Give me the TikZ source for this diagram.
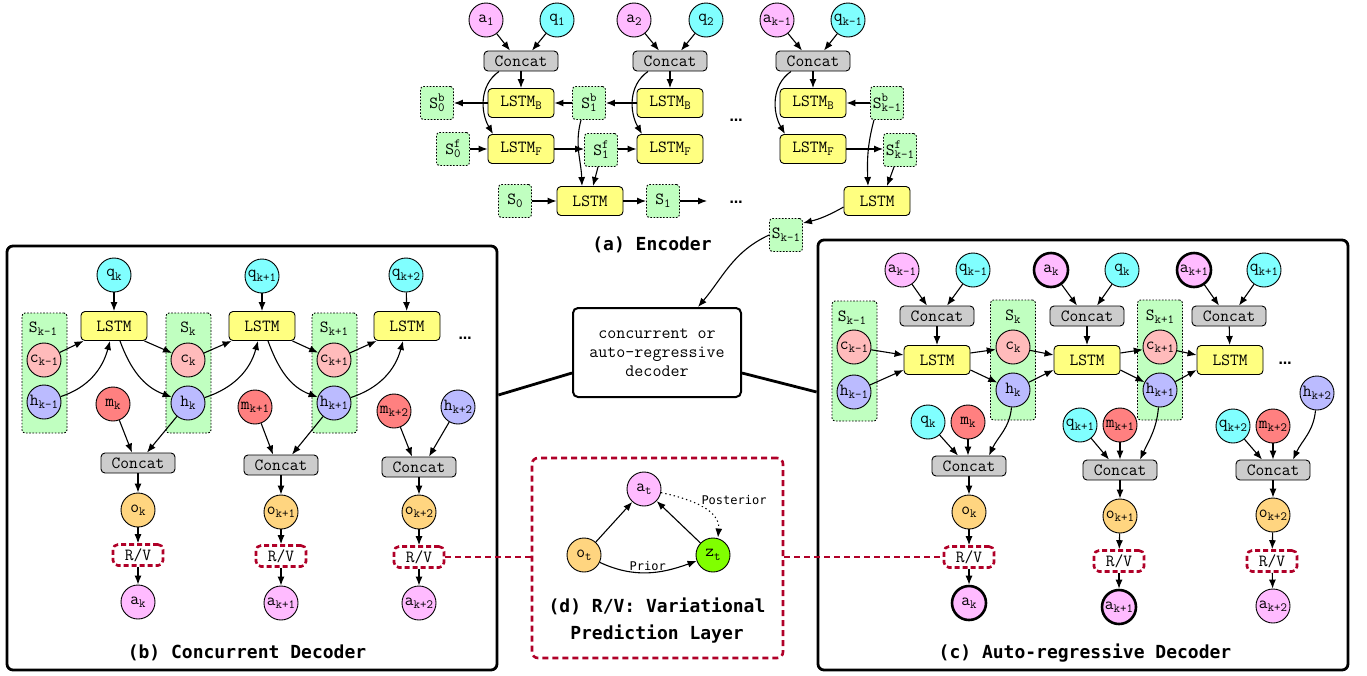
\documentclass[tikz,border=0pt]{standalone}
\usepackage{fontspec}
\newfontfamily\capfont{DejaVu Sans Mono}
\newfontfamily\dotfont{DejaVu Sans}
\usetikzlibrary{arrows.meta}
\definecolor{apink}{HTML}{FFBBFF}
\definecolor{qcyan}{HTML}{80FFFF}
\definecolor{cgray}{HTML}{CCCCCC}
\definecolor{lyel}{HTML}{FFFF80}
\definecolor{sgreen}{HTML}{C0FFC0}
\definecolor{cred}{HTML}{FFBBBB}
\definecolor{hblue}{HTML}{BBBBFF}
\definecolor{mred}{HTML}{FF8080}
\definecolor{oorg}{HTML}{FFD580}
\definecolor{zgreen}{HTML}{80FF00}
\definecolor{rvred}{HTML}{B00028}
\newcommand\nf{\ttfamily\fontsize{17}{19}\selectfont}
\newcommand\smf{\fontsize{12.5}{12.5}\selectfont}
\newcommand\sbs[1]{\raisebox{-0.45ex}{\smf #1}}
\newcommand\sps[2]{S\makebox[0pt][l]{\raisebox{0.9ex}{\smf #1}}\raisebox{-0.45ex}{\smf #2}}
\tikzset{
  every node/.style={font=\nf, inner sep=0pt, text=black},
  bd/.style={draw=black, line width=0.9pt},
  circ/.style={bd, circle, minimum size=34pt},
  anode/.style={circ, fill=apink},
  athick/.style={circ, fill=apink, line width=2.6pt},
  qnode/.style={circ, fill=qcyan},
  cnode/.style={circ, fill=cred},
  hnode/.style={circ, fill=hblue},
  mnode/.style={circ, fill=mred},
  onode/.style={circ, fill=oorg},
  znode/.style={circ, fill=zgreen},
  concat/.style={bd, rounded corners=4pt, fill=cgray, minimum width=74pt, minimum height=20pt},
  lstm/.style={bd, rounded corners=4pt, fill=lyel, minimum width=66pt, minimum height=29pt},
  sbox/.style={draw=black, line width=0.9pt, dash pattern=on 1.6pt off 1.6pt, rounded corners=3pt, fill=sgreen, minimum size=33pt},
  grp/.style={sbox, minimum width=45pt, minimum height=120pt},
  rv/.style={draw=rvred, line width=2.6pt, dash pattern=on 5pt off 3pt, rounded corners=5pt, fill=white, minimum width=50pt, minimum height=21pt},
  rvline/.style={draw=rvred, line width=2.6pt, dash pattern=on 6pt off 4pt},
  outerbox/.style={draw=black, line width=2.8pt, rounded corners=6pt},
  arr/.style={-{Latex[length=9pt,width=7pt]}, line width=1.1pt},
  thickline/.style={line width=2.8pt},
  capt/.style={font=\capfont\bfseries\fontsize{18}{27}\selectfont},
  lbl/.style={font=\capfont\fontsize{12}{12}\selectfont},
  dotsty/.style={font=\dotfont\bfseries\fontsize{13}{13}\selectfont},
}
\begin{document}
\begin{tikzpicture}[x=1pt,y=-1pt]
\useasboundingbox (0,0) rectangle (1367,675);

% ================= outer boxes =================
\node[outerbox, minimum width=490pt, minimum height=424pt] (B) at (252,458) {};
\node[outerbox, minimum width=530pt, minimum height=430pt] (C) at (1083,455) {};
\node[draw=rvred, line width=2.6pt, dash pattern=on 6pt off 4pt, rounded corners=6pt, minimum width=251pt, minimum height=200pt] (D) at (657.5,558) {};
\node[draw=black, line width=2pt, rounded corners=5pt, minimum width=168pt, minimum height=89pt, align=center, font=\ttfamily\fontsize{17.5}{19}\selectfont] (dec) at (657,352.5) {concurrent or\\auto-regressive\\decoder};

% ================= (a) Encoder =================
\node[anode] (a1) at (486,20) {a\sbs{1}};
\node[qnode] (q1) at (557,20) {q\sbs{1}};
\node[concat] (cc1) at (521,61) {Concat};
\node[anode] (a2) at (634,20) {a\sbs{2}};
\node[qnode] (q2) at (706,20) {q\sbs{2}};
\node[concat] (cc2) at (670,61) {Concat};
\node[anode] (a3) at (777,20) {a\sbs{k-1}};
\node[qnode] (q3) at (848,20) {q\sbs{k-1}};
\node[concat] (cc3) at (813,61) {Concat};

\node[lstm] (lb1) at (521,103) {LSTM\sbs{B}};
\node[lstm] (lb2) at (670,103) {LSTM\sbs{B}};
\node[lstm] (lb3) at (813,103) {LSTM\sbs{B}};
\node[lstm] (lf1) at (521,149) {LSTM\sbs{F}};
\node[lstm] (lf2) at (670,149) {LSTM\sbs{F}};
\node[lstm] (lf3) at (813,149) {LSTM\sbs{F}};

\node[sbox] (sb0) at (437,103) {\sps{b}{0}};
\node[sbox] (sb1) at (589,103) {\sps{b}{1}};
\node[sbox] (sbk) at (887,103) {\sps{b}{k-1}};
\node[sbox] (sf0) at (453,149) {\sps{f}{0}};
\node[sbox] (sf1) at (601,150) {\sps{f}{1}};
\node[sbox] (sfk) at (900,150) {\sps{f}{k-1}};

\node[lstm] (ls1) at (590,201) {LSTM};
\node[lstm] (ls3) at (877,201) {LSTM};
\node[sbox] (s0) at (515,201) {S\sbs{0}};
\node[sbox] (s1) at (663,201) {S\sbs{1}};
\node[sbox] (sk) at (786,235) {S\sbs{k-1}};
\coordinate (e1) at (707,201);
\node[dotsty] (dA1) at (736,120) {…};
\node[dotsty] (dA2) at (736,202) {…};
\node[capt] (capA) at (652,245) {(a) Encoder};

\foreach \i in {1,2,3}{
  \draw[arr] (a\i) -- ([xshift=-11pt]cc\i.north);
  \draw[arr] (q\i) -- ([xshift=11pt]cc\i.north);
  \draw[arr] (cc\i) -- (lb\i);
  \draw[arr] ([xshift=-22pt]cc\i.south) to[out=215,in=120] ([xshift=-28pt]lf\i.north);
}
\draw[arr] (lb1) -- (sb0);
\draw[arr] (sb1) -- (lb1);
\draw[arr] (lb2) -- (sb1);
\draw[arr] (sf0) -- (lf1);
\draw[arr] (lf1.east) -- (sf1.west |- lf1.east);
\draw[arr] (sf1.east |- lf2.west) -- (lf2.west);
\draw[arr] (sbk) -- (lb3);
\draw[arr] (lf3.east) -- (sfk.west |- lf3.east);
\draw[arr] ([xshift=-8pt]sb1.south) to[out=-105,in=92] ([xshift=-8pt]ls1.north);
\draw[arr] ([xshift=-3pt]sf1.south) -- ([xshift=3pt]ls1.north);
\draw[arr] ([xshift=-13pt]sbk.south) to[out=-105,in=92] ([xshift=-9pt]ls3.north);
\draw[arr] ([xshift=-6pt]sfk.south) -- ([xshift=10pt]ls3.north);
\draw[arr] (s0) -- (ls1);
\draw[arr] (ls1) -- (s1);
\draw[arr] (s1) -- (e1);
\draw[arr] ([yshift=-6pt]ls3.west) to[bend left=8] ([yshift=-5pt]sk.north east);
\draw[arr] (sk.west) to[out=205,in=50] ([xshift=41pt]dec.north);

% connections of central box
\draw[thickline] ([yshift=-20.5pt]dec.west) -- ([yshift=63pt]B.east);
\draw[thickline] ([yshift=-20.5pt]dec.east) -- ([yshift=63pt]C.west);

% ================= (b) Concurrent decoder =================
\node[grp] (gb1) at (44.5,373) {};
\node[grp] (gb2) at (188.5,373) {};
\node[grp] (gb3) at (334.5,373) {};
\node (lgb1) at (43,329) {S\sbs{k-1}};
\node (lgb2) at (188,329) {S\sbs{k}};
\node (lgb3) at (334,329) {S\sbs{k+1}};
\node[cnode] (cb0) at (44,360) {c\sbs{k-1}};
\node[hnode] (hb0) at (44,402) {h\sbs{k-1}};
\node[cnode] (cb1) at (188,360) {c\sbs{k}};
\node[hnode] (hb1) at (188,403) {h\sbs{k}};
\node[cnode] (cb2) at (334,360) {c\sbs{k+1}};
\node[hnode] (hb2) at (334,403) {h\sbs{k+1}};

\node[qnode] (qb1) at (114,275) {q\sbs{k}};
\node[qnode] (qb2) at (262,276) {q\sbs{k+1}};
\node[qnode] (qb3) at (406,275) {q\sbs{k+2}};
\node[lstm] (lsb1) at (114,326) {LSTM};
\node[lstm] (lsb2) at (262,326) {LSTM};
\node[lstm] (lsb3) at (407,326) {LSTM};
\node[dotsty] (dB) at (465,338) {…};

\node[mnode] (mb1) at (113,404) {m\sbs{k}};
\node[mnode] (mb2) at (255,407) {m\sbs{k+1}};
\node[mnode] (mb3) at (394,411) {m\sbs{k+2}};
\node[hnode] (hb3) at (458,407) {h\sbs{k+2}};

\node[concat] (ccb1) at (138,463) {Concat};
\node[concat] (ccb2) at (281,465) {Concat};
\node[concat] (ccb3) at (419,467) {Concat};
\node[onode] (ob1) at (138,510) {o\sbs{k}};
\node[onode] (ob2) at (281,512) {o\sbs{k+1}};
\node[onode] (ob3) at (419,512) {o\sbs{k+2}};
\node[rv] (rvb1) at (138,555) {R/V};
\node[rv] (rvb2) at (281,556) {R/V};
\node[rv] (rvb3) at (419,557) {R/V};
\node[anode] (ab1) at (138,602) {a\sbs{k}};
\node[anode] (ab2) at (281,603) {a\sbs{k+1}};
\node[anode] (ab3) at (419,603) {a\sbs{k+2}};
\node[capt] (capB) at (247,653) {(b) Concurrent Decoder};

\draw[arr] (qb1) -- (lsb1);
\draw[arr] (qb2) -- (lsb2);
\draw[arr] (qb3) -- (lsb3);
\draw[arr] (cb0) -- ([xshift=3pt]lsb1.south west);
\draw[arr] (hb0) to[out=18,in=-105] ([xshift=-4pt]lsb1.south);
\draw[arr] ([xshift=-3pt]lsb1.south east) -- (cb1);
\draw[arr] ([xshift=6pt]lsb1.south) to[out=-70,in=160] (hb1);
\draw[arr] (cb1) -- ([xshift=3pt]lsb2.south west);
\draw[arr] (hb1) to[out=18,in=-105] ([xshift=-4pt]lsb2.south);
\draw[arr] ([xshift=-3pt]lsb2.south east) -- (cb2);
\draw[arr] ([xshift=6pt]lsb2.south) to[out=-70,in=160] (hb2);
\draw[arr] (cb2) -- ([xshift=3pt]lsb3.south west);
\draw[arr] (hb2) to[out=18,in=-105] ([xshift=-4pt]lsb3.south);
\draw[arr] (hb1) -- ([xshift=9pt]ccb1.north);
\draw[arr] (mb1) -- ([xshift=-6pt]ccb1.north);
\draw[arr] (hb2) -- ([xshift=11pt]ccb2.north);
\draw[arr] (mb2) -- ([xshift=-8pt]ccb2.north);
\draw[arr] (hb3) -- ([xshift=10pt]ccb3.north);
\draw[arr] (mb3) -- ([xshift=-7pt]ccb3.north);
\foreach \i in {1,2,3}{
  \draw[arr] (ccb\i) -- (ob\i);
  \draw[arr] (ob\i) -- (rvb\i);
  \draw[arr] (rvb\i) -- (ab\i);
}

% ================= (c) Auto-regressive decoder =================
\node[grp] (gc1) at (854.5,361) {};
\node[grp] (gc2) at (1013,360) {};
\node[grp] (gc3) at (1160,360) {};
\node (lgc1) at (852,318) {S\sbs{k-1}};
\node (lgc2) at (1013,317) {S\sbs{k}};
\node (lgc3) at (1160,317) {S\sbs{k+1}};
\node[cnode] (cc0) at (854,347) {c\sbs{k-1}};
\node[hnode] (hc0) at (854,392) {h\sbs{k-1}};
\node[cnode] (ccn1) at (1013,347) {c\sbs{k}};
\node[hnode] (hc1) at (1013,390) {h\sbs{k}};
\node[cnode] (ccn2) at (1160,347) {c\sbs{k+1}};
\node[hnode] (hc2) at (1160,390) {h\sbs{k+1}};

\node[anode] (at1) at (902,270) {a\sbs{k-1}};
\node[qnode] (qt1) at (973,270) {q\sbs{k-1}};
\node[athick] (at2) at (1051,270) {a\sbs{k}};
\node[qnode] (qt2) at (1122,270) {q\sbs{k}};
\node[athick] (at3) at (1194,270) {a\sbs{k+1}};
\node[qnode] (qt3) at (1264,270) {q\sbs{k+1}};
\node[concat] (cct1) at (937,316) {Concat};
\node[concat] (cct2) at (1087,316) {Concat};
\node[concat] (cct3) at (1229,316) {Concat};
\node[lstm] (lsc1) at (937,360) {LSTM};
\node[lstm] (lsc2) at (1087,360) {LSTM};
\node[lstm] (lsc3) at (1230,360) {LSTM};
\node[dotsty] (dC) at (1285,363) {…};
\node[hnode] (hc3) at (1317,393) {h\sbs{k+2}};

\node[qnode] (qc1) at (928,422) {q\sbs{k}};
\node[mnode] (mc1) at (968,422) {m\sbs{k}};
\node[qnode] (qc2) at (1080,425) {q\sbs{k+1}};
\node[mnode] (mc2) at (1120,425) {m\sbs{k+1}};
\node[qnode] (qc3) at (1233,426) {q\sbs{k+2}};
\node[mnode] (mc3) at (1273,426) {m\sbs{k+2}};

\node[concat] (ccl1) at (969,466) {Concat};
\node[concat] (ccl2) at (1120,470) {Concat};
\node[concat] (ccl3) at (1273,470) {Concat};
\node[onode] (oc1) at (969,512) {o\sbs{k}};
\node[onode] (oc2) at (1120,516) {o\sbs{k+1}};
\node[onode] (oc3) at (1273,515) {o\sbs{k+2}};
\node[rv] (rvc1) at (969,557) {R/V};
\node[rv] (rvc2) at (1119,561) {R/V};
\node[rv] (rvc3) at (1272,561) {R/V};
\node[athick] (ac1) at (969,603) {a\sbs{k}};
\node[athick] (ac2) at (1119,607) {a\sbs{k+1}};
\node[anode] (ac3) at (1273,606) {a\sbs{k+2}};
\node[capt] (capC) at (1085,653) {(c) Auto-regressive Decoder};

\foreach \i in {1,2,3}{
  \draw[arr] (at\i) -- ([xshift=-10pt]cct\i.north);
  \draw[arr] (qt\i) -- ([xshift=10pt]cct\i.north);
  \draw[arr] (cct\i) -- (lsc\i);
  \draw[arr] (qc\i) -- ([xshift=-11pt]ccl\i.north);
  \draw[arr] (mc\i) -- (mc\i |- ccl\i.north);
  \draw[arr] (ccl\i) -- (oc\i);
  \draw[arr] (oc\i) -- (rvc\i);
  \draw[arr] (rvc\i) -- (ac\i);
}
\draw[arr] (cc0) -- ([yshift=5pt]lsc1.west);
\draw[arr] (hc0) -- ([yshift=-10pt]lsc1.west);
\draw[arr] ([yshift=7pt]lsc1.east) -- (ccn1);
\draw[arr] ([yshift=-10pt]lsc1.east) -- (hc1);
\draw[arr] (ccn1) -- ([yshift=5pt]lsc2.west);
\draw[arr] (hc1) -- ([yshift=-10pt]lsc2.west);
\draw[arr] ([yshift=7pt]lsc2.east) -- (ccn2);
\draw[arr] ([yshift=-10pt]lsc2.east) -- (hc2);
\draw[arr] (ccn2) -- ([yshift=5pt]lsc3.west);
\draw[arr] (hc2) -- ([yshift=-10pt]lsc3.west);
\draw[arr] (hc1) to[out=-95,in=65] ([xshift=20pt]ccl1.north);
\draw[arr] (hc2) to[out=-95,in=65] ([xshift=20pt]ccl2.north);
\draw[arr] (hc3) to[out=-95,in=65] ([xshift=20pt]ccl3.north);

% ================= (d) R/V layer =================
\node[anode] (at) at (644,489) {a\sbs{t}};
\node[onode] (ot) at (584,555) {o\sbs{t}};
\node[znode] (zt) at (713,555) {z\sbs{t}};
\draw[arr] (ot) -- (at);
\draw[arr] (zt) -- (at);
\draw[arr] (ot) to[out=-25,in=200] node[midway, above=1pt, lbl] {Prior} (zt);
\draw[arr, dash pattern=on 1.3pt off 3pt] (at) to[out=-12,in=85] ([xshift=5pt]zt.north);
\node[lbl, fill=white, inner sep=1pt] (post) at (734,500) {Posterior};
\node[capt, align=center] (capD) at (657,621) {(d) R/V: Variational\\Prediction Layer};
\draw[rvline] (rvb3.east) -- (D.west |- rvb3.east);
\draw[rvline] (D.east |- rvc1.west) -- (rvc1.west);
\end{tikzpicture}
\end{document}
